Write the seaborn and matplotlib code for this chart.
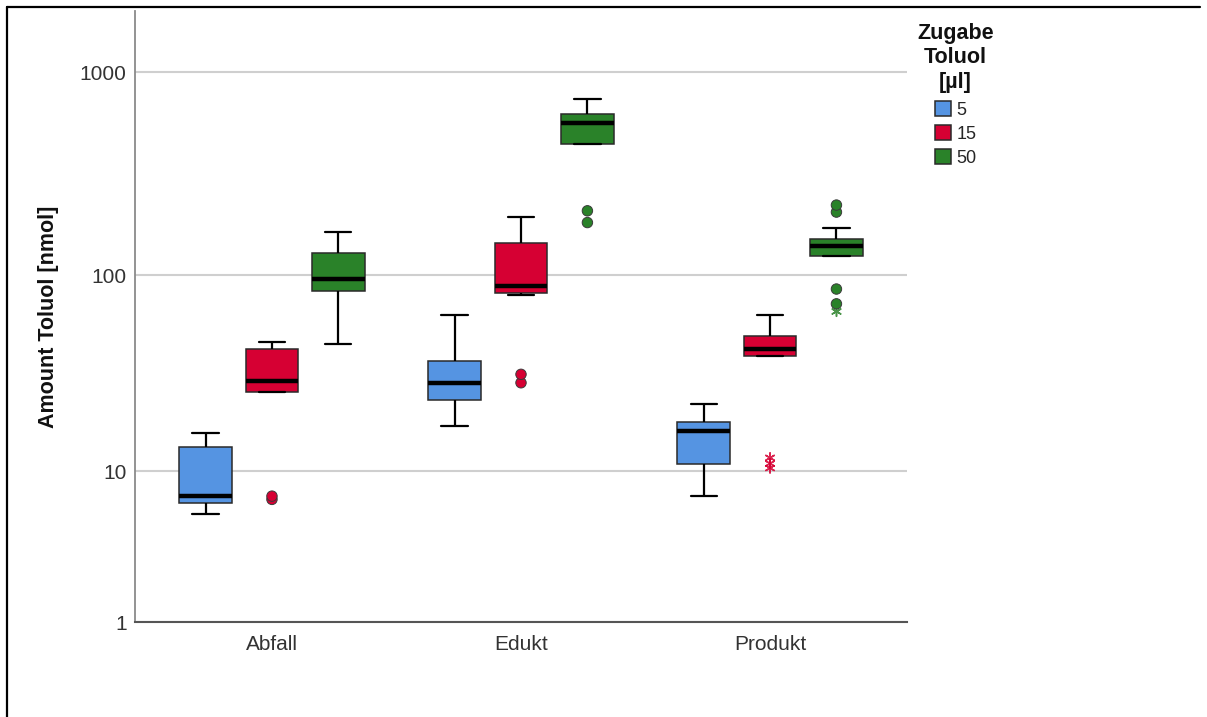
import numpy as np
import pandas as pd
import matplotlib
matplotlib.use("Agg")
import matplotlib.pyplot as plt
from matplotlib.lines import Line2D
from matplotlib.ticker import FixedLocator, NullLocator, FixedFormatter
import seaborn as sns

# Sample groups and Toluol additions
categories = ["Abfall", "Edukt", "Produkt"]
doses = ["5", "15", "50"]
dose_colors = ["#5594E2", "#D60033", "#2A8229"]

# Amount of Toluol [nmol] per sample group and addition
abfall_5 = [5.8, 6.2, 6.7, 7.0, 7.3, 9.5, 13.5, 14.8, 15.9]
abfall_15 = [7.0, 7.3, 26.0, 28.0, 29.4, 38.0, 42.6, 44.0, 46.2]
abfall_50 = [45.5, 70.0, 83.3, 90.0, 95.6, 110.0, 129.0, 150.0, 162.8]

edukt_5 = [17.3, 21.0, 23.6, 26.0, 28.7, 33.0, 37.1, 50.0, 63.1]
edukt_15 = [28.9, 31.9, 79.6, 81.1, 83.0, 86.0, 88.2, 100.0, 120.0,
            145.0, 160.0, 180.0, 193.0]
edukt_50 = [182.0, 208.0, 443.0, 500.0, 560.0, 600.0, 625.0, 690.0, 735.0]

produkt_5 = [7.34, 9.0, 10.9, 14.0, 16.3, 17.2, 18.25, 20.0, 22.4]
produkt_15 = [10.4, 11.0, 11.8, 39.6, 40.5, 41.5, 42.6, 44.0, 47.0,
              49.7, 55.0, 60.0, 63.3]
produkt_50 = [66.0, 72.0, 85.3, 125.0, 130.0, 135.0, 139.0, 143.0, 147.0,
              151.0, 171.5, 205.0, 222.0]

ytick_values = [1, 10, 100, 1000]
ytick_labels = ["1", "10", "100", "1000"]

groups = {
    ("Abfall", "5"): abfall_5, ("Abfall", "15"): abfall_15, ("Abfall", "50"): abfall_50,
    ("Edukt", "5"): edukt_5, ("Edukt", "15"): edukt_15, ("Edukt", "50"): edukt_50,
    ("Produkt", "5"): produkt_5, ("Produkt", "15"): produkt_15, ("Produkt", "50"): produkt_50,
}


def safe_log(x):
    x = np.asarray(x, dtype=float)
    return np.log10(np.maximum(1.0 + x, 1e-12))


def safe_log_inv(y):
    return 10.0 ** np.asarray(y, dtype=float) - 1.0


# Classify points like a Tukey box plot on the safe-log scale:
# beyond 1.5 IQR -> outlier (circle), beyond 3 IQR -> extreme (asterisk)
rows = []
for (cat, dose), values in groups.items():
    t = safe_log(values)
    q1, q3 = np.percentile(t, [25, 75])
    iqr = q3 - q1
    for v, tv in zip(values, t):
        if tv < q1 - 3 * iqr or tv > q3 + 3 * iqr:
            kind = "extreme"
        elif tv < q1 - 1.5 * iqr or tv > q3 + 1.5 * iqr:
            kind = "outlier"
        else:
            kind = "regular"
        rows.append({"Probe": cat, "Zugabe": dose, "Amount": v, "kind": kind})
df = pd.DataFrame(rows)

sns.set_style("white")
plt.rcParams["font.family"] = ["Liberation Sans", "DejaVu Sans"]

fig = plt.figure(figsize=(12.07, 7.17), dpi=100)
ax = fig.add_axes([135 / 1207, 95 / 717, 772 / 1207, 611 / 717])
ax.set_yscale("function", functions=(safe_log, safe_log_inv))

palette = dict(zip(doses, dose_colors))

sns.boxplot(
    data=df, x="Probe", y="Amount", hue="Zugabe",
    order=categories, hue_order=doses, palette=palette,
    width=0.8, gap=0.21, saturation=1, showfliers=False,
    linecolor="#2a2a2a", linewidth=1.1,
    medianprops={"color": "black", "linewidth": 3.2},
    whiskerprops={"color": "black", "linewidth": 1.6},
    capprops={"color": "black", "linewidth": 1.6},
    ax=ax,
)

sns.stripplot(
    data=df[df["kind"] == "outlier"], x="Probe", y="Amount", hue="Zugabe",
    order=categories, hue_order=doses, palette=palette,
    dodge=True, jitter=False, size=7.5, linewidth=0.7, edgecolor="#3a3a3a",
    legend=False, ax=ax, zorder=4,
)
sns.stripplot(
    data=df[df["kind"] == "extreme"], x="Probe", y="Amount", hue="Zugabe",
    order=categories, hue_order=doses, palette=palette,
    dodge=True, jitter=False, size=7, marker=(6, 2, 0), linewidth=1.1,
    legend=False, ax=ax, zorder=3, alpha=0.85,
)

ax.set_ylim(1, 2000)
ax.set_xlim(-0.55, 2.55)
ax.yaxis.set_major_locator(FixedLocator(ytick_values))
ax.yaxis.set_major_formatter(FixedFormatter(ytick_labels))
ax.yaxis.set_minor_locator(NullLocator())
ax.yaxis.grid(True, color="#cfcfcf", linewidth=1.5)
ax.set_axisbelow(True)

for side in ["top", "right"]:
    ax.spines[side].set_visible(False)
ax.spines["left"].set_color("#8a8a8a")
ax.spines["left"].set_linewidth(1.3)
ax.spines["bottom"].set_color("#555555")
ax.spines["bottom"].set_linewidth(1.5)

ax.tick_params(axis="both", length=0, labelsize=15, labelcolor="#333333")
ax.tick_params(axis="y", pad=6)
ax.tick_params(axis="x", pad=9)
ax.set_xlabel("")
ax.set_ylabel("Amount Toluol [nmol]", fontsize=15.5, fontweight="bold",
              color="#111111", labelpad=15)

handles, labels = ax.get_legend_handles_labels()
if ax.get_legend() is not None:
    ax.get_legend().remove()
leg = fig.legend(
    handles, labels, title="Zugabe\nToluol\n[µl]",
    loc="upper left", bbox_to_anchor=(901 / 1207, 1 - 7 / 717),
    frameon=False, fontsize=13, handlelength=0.9, handleheight=0.9,
    handletextpad=0.3, labelspacing=0.35, alignment="center",
    title_fontproperties={"weight": "bold", "size": 15.5},
)
leg.get_title().set_multialignment("center")
leg.get_title().set_color("#111111")
leg._legend_box.sep = 6

# Outer chart frame
fig.add_artist(Line2D([7 / 1207, 7 / 1207], [0, 1 - 7 / 717], color="black",
                      linewidth=1.6, transform=fig.transFigure))
fig.add_artist(Line2D([7 / 1207, 1200 / 1207], [1 - 7 / 717, 1 - 7 / 717],
                      color="black", linewidth=1.6, transform=fig.transFigure))

fig.savefig("out.png", dpi=100)
